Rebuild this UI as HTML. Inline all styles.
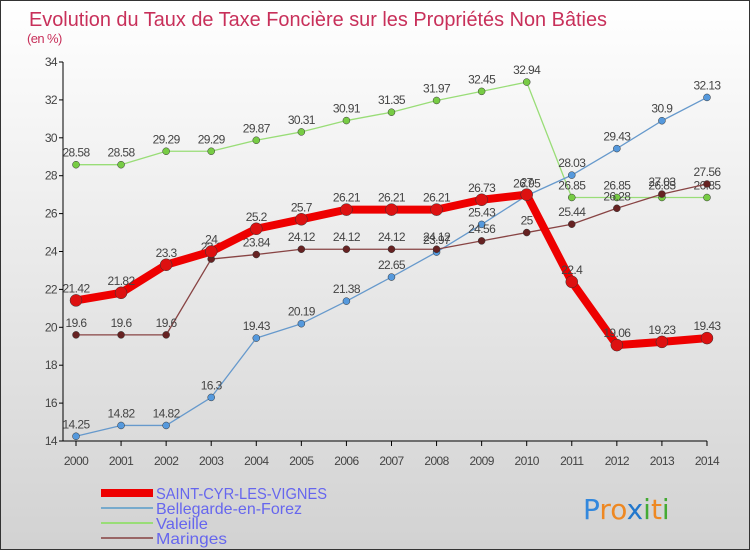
<!DOCTYPE html>
<html><head><meta charset="utf-8"><style>
body{margin:0}
#c{width:750px;height:550px;position:relative;background:linear-gradient(#ffffff,#d2d2d2);box-sizing:border-box;border:1px solid #333;font-family:"Liberation Sans",sans-serif;overflow:hidden}
</style></head><body>
<div id="c">
<svg id="s" width="750" height="550" style="position:absolute;left:0;top:0"></svg>
</div>
<script>
const years=["2000","2001","2002","2003","2004","2005","2006","2007","2008","2009","2010","2011","2012","2013","2014"];
const yTicks=[14,16,18,20,22,24,26,28,30,32,34];
const saint=[21.42,21.82,23.3,24,25.2,25.7,26.21,26.21,26.21,26.73,27,22.4,19.06,19.23,19.43];
const belle=[14.25,14.82,14.82,16.3,19.43,20.19,21.38,22.65,23.97,25.43,26.95,28.03,29.43,30.9,32.13];
const valeille=[28.58,28.58,29.29,29.29,29.87,30.31,30.91,31.35,31.97,32.45,32.94,26.85,26.85,26.85,26.85];
const maringes=[19.6,19.6,19.6,23.6,23.84,24.12,24.12,24.12,24.12,24.56,25,25.44,26.28,27.03,27.56];
const NS="http://www.w3.org/2000/svg",s=document.getElementById('s');
const X=i=>75+i*45.07, Y=v=>440-(v-14)*18.95;
function el(t,a,p){const e=document.createElementNS(NS,t);for(const k in a)e.setAttribute(k,a[k]);(p||s).appendChild(e);return e;}
function tx(x,y,str,o,p){const e=el('text',Object.assign({x:x,y:y,'font-size':12,fill:'#444','letter-spacing':'-0.6'},o||{}),p);e.textContent=str;return e;}
let t=tx(28,25,"Evolution du Taux de Taxe Foncière sur les Propriétés Non Bâties",{'font-size':20,fill:'#c8305a','letter-spacing':'0',textLength:578,lengthAdjust:'spacingAndGlyphs'});

t=tx(26,42,"(en %)",{'font-size':13,fill:'#c8305a'});

let a=el('line',{x1:62,y1:61,x2:62,y2:440,stroke:'#000'});
a=el('line',{x1:62,y1:440,x2:706,y2:440,stroke:'#000'});
yTicks.forEach(v=>{el('line',{x1:58,y1:Y(v),x2:62,y2:Y(v),stroke:'#000'});
 const l=tx(56,Y(v)+4,String(v),{'text-anchor':'end'});});
years.forEach((y,i)=>{el('line',{x1:X(i),y1:440,x2:X(i),y2:445,stroke:'#000'});
 const l=tx(X(i),464,y,{'text-anchor':'middle'});});
function series(d,col,w,r,dot,name){
 const g=el('g',{});
 el('polyline',{points:d.map((v,i)=>X(i)+','+Y(v)).join(' '),fill:'none',stroke:col,'stroke-width':w,'stroke-linejoin':'round'},g);
 d.forEach((v,i)=>{const c=el('circle',{cx:X(i),cy:Y(v),r:r,fill:dot,stroke:'#333','stroke-width':0.5},g);
  
  const l=tx(X(i),Y(v)-8,String(v),{'text-anchor':'middle'},g);});
}
series(valeille,'#99dd77',1.3,3.5,'#77cc44','valeille');
series(belle,'#6699cc',1.3,3.5,'#5599dd','bellegarde');
series(maringes,'#884444',1.3,3.5,'#662222','maringes');
series(saint,'#ee0000',8,6,'#dd1111','saint-cyr');
const leg=[["SAINT-CYR-LES-VIGNES","#ee0000",8,171],["Bellegarde-en-Forez","#77aacc",2,146],["Valeille","#99dd77",2,52],["Maringes","#996666",2,71]];
leg.forEach((L,i)=>{const y=492+i*15;const g=el('g',{});
 el('line',{x1:100,y1:y,x2:152,y2:y,stroke:L[1],'stroke-width':L[2]},g);
 tx(155,y+6,L[0],{'font-size':16,fill:'#6666ee','letter-spacing':'0',textLength:L[3],lengthAdjust:'spacingAndGlyphs'},g);});
const lg=el('text',{x:582,y:518,'font-size':28,'font-family':'DejaVu Sans, sans-serif'});
[["P","#3388dd"],["ro","#ee8822"],["x","#2277cc"],["i","#44aa33"],["t","#ee8822"],["i","#44aa33"]].forEach(p=>{const ts=el('tspan',{fill:p[1]},lg);ts.textContent=p[0];});
</script>
</body></html>
